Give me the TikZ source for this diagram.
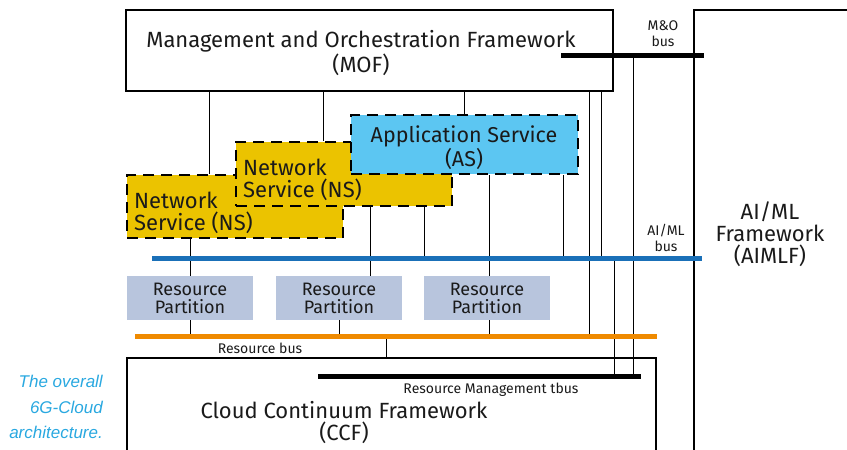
\documentclass[tikz,border=0pt]{standalone}
\usepackage{fontspec}
\setmainfont{Fira Sans}
\newfontfamily\capfont{Liberation Sans}
\definecolor{nsfill}{HTML}{EBC300}
\definecolor{asfill}{HTML}{5CC6F2}
\definecolor{rpfill}{HTML}{B8C5DD}
\definecolor{aiblue}{HTML}{1A70B8}
\definecolor{rorange}{HTML}{EF8A00}
\definecolor{capblue}{HTML}{29A8E0}
\definecolor{txt}{HTML}{1A1A1A}
\begin{document}
\begin{tikzpicture}[x=1pt,y=-1pt,
  every node/.style={text=txt},
  frame/.style={draw=black,line width=1.5pt,fill=white,inner sep=0pt},
  svc/.style={draw=black,line width=2.2pt,dash pattern=on 11pt off 7pt,inner sep=0pt},
  nsbox/.style={svc,fill=nsfill},
  asbox/.style={svc,fill=asfill},
  svctext/.style={inner sep=0pt,font=\fontsize{22}{22}\selectfont},
  rpbox/.style={fill=rpfill,inner sep=0pt,align=center,minimum width=126pt,minimum height=44pt,font=\fontsize{18}{18}\selectfont},
  bigtext/.style={align=center,inner sep=0pt,font=\fontsize{22}{22}\selectfont},
  smalltext/.style={align=center,inner sep=0pt,font=\fontsize{14}{16}\selectfont},
  wire/.style={draw=black,line width=0.9pt},
  blackbus/.style={draw=black,line width=5pt},
  bluebus/.style={draw=aiblue,line width=5pt},
  orangebus/.style={draw=rorange,line width=5pt}]
\useasboundingbox (0,0) rectangle (847,450);
\clip (0,0) rectangle (847,450);

% frames
\node[frame,minimum width=487pt,minimum height=81pt] (mof) at (369.5,50.5) {};
\node[bigtext] (moft) at (361,53) {Management and Orchestration Framework\\(MOF)};
\node[frame,minimum width=200pt,minimum height=480pt] (aimlf) at (794,250) {};
\node[bigtext] (aimlft) at (770,234) {AI/ML\\Framework\\(AIMLF)};
\node[frame,minimum width=529pt,minimum height=120pt] (ccf) at (391.5,418) {};
\node[bigtext] (ccft) at (344,423) {Cloud Continuum Framework\\(CCF)};

% service boxes
\node[nsbox,minimum width=216pt,minimum height=63pt] (ns1) at (235,206.5) {};
\node[svctext,anchor=west,align=left] (ns1t) at (134,213) {Network\\Service (NS)};
\node[nsbox,minimum width=216pt,minimum height=64pt] (ns2) at (344,174) {};
\node[svctext,anchor=west,align=left] (ns2t) at (243,180) {Network\\Service (NS)};
\node[asbox,minimum width=227pt,minimum height=59pt] (as) at (464.5,144.5) {};
\node[svctext,align=center,font=\fontsize{21.5}{21.5}\selectfont] (ast) at (464,147.5) {Application Service\\(AS)};

% resource partitions
\node[rpbox] (rp1) at (190,298) {Resource\\Partition};
\node[rpbox] (rp2) at (339,298) {Resource\\Partition};
\node[rpbox] (rp3) at (487,298) {Resource\\Partition};

% bus end points
\coordinate (mo1) at (561,55);   \coordinate (mo2) at (704,55);
\coordinate (ai1) at (152,258);  \coordinate (ai2) at (702,258);
\coordinate (rb1) at (135,336);  \coordinate (rb2) at (657,336);
\coordinate (rm1) at (318,376);  \coordinate (rm2) at (641,376);

% wire x positions
\coordinate (xa) at (209,0);
\coordinate (xb) at (323,0);
\coordinate (xc) at (464,0);
\coordinate (xd) at (589,0);
\coordinate (xe) at (601,0);
\coordinate (xf) at (614,0);
\coordinate (xg) at (633,0);
\coordinate (xh) at (190,0);
\coordinate (xi) at (370,0);
\coordinate (xj) at (424,0);
\coordinate (xk) at (489,0);
\coordinate (xl) at (563,0);
\coordinate (xm) at (386,0);
\coordinate (xn) at (339,0);

% wires
\draw[wire] (mof.south -| xa) -- (ns1.north -| xa);
\draw[wire] (mof.south -| xb) -- (ns2.north -| xb);
\draw[wire] (mof.south -| xc) -- (as.north -| xc);
\draw[wire] (mof.south -| xd) -- (rb1 -| xd);
\draw[wire] (mof.south -| xe) -- (ai1 -| xe);
\draw[wire] (ai1 -| xf) -- (rm1 -| xf);
\draw[wire] (mo1 -| xg) -- (rm1 -| xg);
\draw[wire] (ns1.south -| xh) -- (rp1.north -| xh);
\draw[wire] (rp1.south -| xh) -- (rb1 -| xh);
\draw[wire] (ns2.south -| xi) -- (rp2.north -| xi);
\draw[wire] (rp2.south -| xn) -- (rb1 -| xn);
\draw[wire] (ns2.south -| xj) -- (ai1 -| xj);
\draw[wire] (as.south -| xk) -- (rp3.north -| xk);
\draw[wire] (rp3.south -| xk) -- (rb1 -| xk);
\draw[wire] (as.south -| xl) -- (ai1 -| xl);
\draw[wire] (rb1 -| xm) -- (ccf.north -| xm);

% buses
\draw[blackbus] (mo1) -- (mo2);
\draw[bluebus] (ai1) -- (ai2);
\draw[orangebus] (rb1) -- (rb2);
\draw[blackbus] (rm1) -- (rm2);

% bus labels
\node[smalltext] (molbl) at (663,34) {M\&O\\bus};
\node[smalltext] (ailbl) at (666,238) {AI/ML\\bus};
\node[smalltext] (rblbl) at (260,348) {Resource bus};
\node[smalltext] (rmlbl) at (491,390) {Resource Management tbus};

% caption
\node[inner sep=0pt,align=right,anchor=east,text=capblue,font=\capfont\itshape\fontsize{17}{25.5}\selectfont] (cap) at (103,407) {The overall\\6G-Cloud\\architecture.};
\end{tikzpicture}
\end{document}
